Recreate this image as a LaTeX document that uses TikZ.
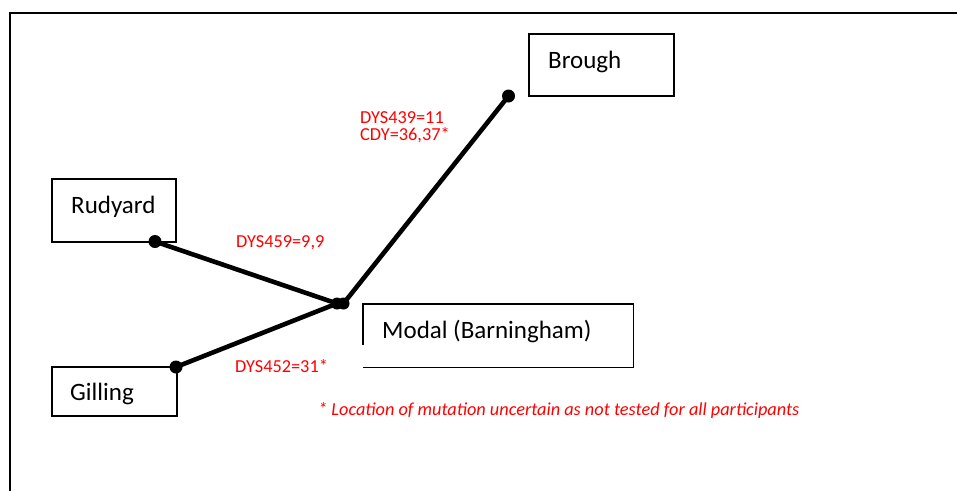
\documentclass[tikz,border=0pt]{standalone}
\usepackage{fontspec}
\setmainfont{Carlito}
\usetikzlibrary{calc}
\tikzset{
  box/.style={draw=black, line width=1.4pt, inner sep=0pt, fill=none},
  nametext/.style={inner sep=0pt, anchor=base west, font=\fontsize{25}{30}\selectfont},
  redtext/.style={inner sep=0pt, anchor=base west, text=red, font=\fontsize{18.3}{22}\selectfont},
  dot/.style={circle, fill=black, inner sep=0pt, minimum size=13pt},
  link/.style={line width=4.6pt, line cap=round},
  frameline/.style={line width=2.2pt}
}
\begin{document}
\begin{tikzpicture}[x=1pt, y=-1pt]
\useasboundingbox (0,0) rectangle (957,491);
% frame (top and left)
\coordinate (fa) at (10,491);
\coordinate (fb) at (10,13);
\coordinate (fc) at (957,13);
\draw[frameline] (fa) -- (fb) -- (fc);

% boxes
\node[box, minimum width=145pt, minimum height=62pt] (brough) at (601.5,65) {};
\node[nametext] (broughtext) at (548,68) {Brough};

\node[box, minimum width=124pt, minimum height=63pt] (rudyard) at (114,210.5) {};
\node[nametext] (rudyardtext) at (71,213) {Rudyard};

\node[box, minimum width=125pt, minimum height=49pt] (gilling) at (114.5,391.5) {};
\node[nametext] (gillingtext) at (70,400) {Gilling};

\node[inner sep=0pt, minimum width=270pt, minimum height=63pt] (modal) at (498,335.5) {};
\draw[line width=1.4pt] ($(modal.north west)+(0,41)$) -- (modal.north west) -- (modal.north east) -- (modal.south east) -- (modal.south west);
\node[nametext] (modaltext) at (382,338) {Modal (Barningham)};

% dots
\node[dot] (db) at (508.5,96) {};
\node[dot] (dr) at (155,241.5) {};
\node[dot] (dg) at (176,367) {};
\node[dot, minimum size=12pt] (dc1) at (337,303.5) {};
\node[dot, minimum size=12pt] (dc2) at (343.5,303.5) {};

% connectors
\draw[link] (dr.center) -- (dc1.center);
\draw[link] (dg.center) -- (dc1.center);
\draw[link] (db.center) -- (dc2.center);

% labels
\node[redtext] (l1) at (360,123.5) {DYS439=11};
\node[redtext] (l2) at (360,140.5) {CDY=36,37*};
\node[redtext] (l3) at (236,247) {DYS459=9,9};
\node[redtext] (l4) at (235,372.5) {DYS452=31*};
\node[redtext, font=\fontsize{18.3}{22}\selectfont\itshape] (note) at (318,415) {* Location of mutation uncertain as not tested for all participants};
\end{tikzpicture}
\end{document}
